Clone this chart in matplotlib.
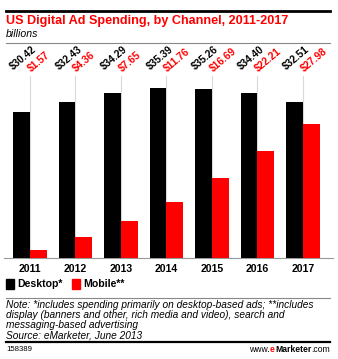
import matplotlib
matplotlib.use("Agg")
import matplotlib.pyplot as plt
from matplotlib.lines import Line2D
from matplotlib.patches import Rectangle

years = ["2011", "2012", "2013", "2014", "2015", "2016", "2017"]
desktop = [30.42, 32.43, 34.29, 35.39, 35.26, 34.40, 32.51]
mobile = [1.57, 4.36, 7.65, 11.76, 16.69, 22.21, 27.98]
series_names = ["Desktop*", "Mobile**"]

W, H = 338, 359
fig = plt.figure(figsize=(W / 100, H / 100), dpi=100)
fig.patch.set_facecolor("white")

def fx(px):
    return px / W

def fy(py):
    return 1 - py / H

RED = "#FF0000"
FONT = "Liberation Sans"

# axes
ax_left, ax_right = 4, 333
ax_top, ax_bottom = 76, 258
ax = fig.add_axes([fx(ax_left), fy(ax_bottom), fx(ax_right - ax_left), (ax_bottom - ax_top) / H])
x = list(range(len(years)))
bw = 0.37
ax.bar([i - bw / 2 for i in x], desktop, width=bw, color="black", zorder=3)
ax.bar([i + bw / 2 for i in x], mobile, width=bw, color=RED, zorder=3)
for i in x:
    ax.axvline(i, color="#d9d9d9", lw=0.8, zorder=1)
ax.set_xlim(-0.571, 6.66)
ax.set_ylim(0, 37.9)
for s in ["top", "right", "left"]:
    ax.spines[s].set_visible(False)
ax.spines["bottom"].set_color("#999999")
ax.spines["bottom"].set_linewidth(0.8)
ax.set_yticks([])
ax.set_xticks(x)
ax.set_xticklabels(years, fontfamily=FONT, fontweight="bold", fontsize=7.6)
ax.tick_params(axis="x", length=0, pad=4)

# value labels
for i in x:
    ax.annotate(f"${desktop[i]:.2f}", xy=(i - bw + 0.01, 1), xycoords=("data", "axes fraction"),
                xytext=(0, 4.4), textcoords="offset points", rotation=40,
                rotation_mode="anchor", ha="left", va="baseline",
                fontfamily=FONT, fontweight="bold", fontsize=7.3, color="black")
    ax.annotate(f"${mobile[i]:.2f}", xy=(i + 0.02, 1), xycoords=("data", "axes fraction"),
                xytext=(0, 3.0), textcoords="offset points", rotation=40,
                rotation_mode="anchor", ha="left", va="baseline",
                fontfamily=FONT, fontweight="bold", fontsize=7.3, color=RED)

# header
fig.add_artist(Line2D([fx(6), fx(330)], [fy(11), fy(11)], color="black", lw=2))
fig.text(fx(6), fy(21), "US Digital Ad Spending, by Channel, 2011-2017", color=RED,
         fontfamily=FONT, fontweight="bold", fontsize=9.1, va="center", ha="left")
fig.text(fx(6), fy(34), "billions", fontfamily=FONT, fontstyle="italic", fontsize=7.6,
         va="center", ha="left")
fig.add_artist(Line2D([fx(6), fx(330)], [fy(43), fy(43)], color="#888888", lw=0.8))

# legend
for (px, col, name) in [(6, "black", series_names[0]), (72, RED, series_names[1])]:
    fig.add_artist(Rectangle((fx(px), fy(289)), fx(8), 10 / H, color=col))
    fig.text(fx(px + 11), fy(284), name, fontfamily=FONT, fontweight="bold", fontsize=7.6,
             va="center", ha="left")

# notes
fig.add_artist(Line2D([fx(6), fx(330)], [fy(298), fy(298)], color="#888888", lw=0.8))
notes = ["Note: *includes spending primarily on desktop-based ads; **includes",
         "display (banners and other, rich media and video), search and",
         "messaging-based advertising",
         "Source: eMarketer, June 2013"]
for k, line in enumerate(notes):
    fig.text(fx(6), fy(304.5 + k * 10.3), line, fontfamily=FONT, fontstyle="italic",
             fontsize=7.3, va="center", ha="left")
fig.add_artist(Line2D([fx(6), fx(330)], [fy(342), fy(342)], color="black", lw=1.6))
fig.text(fx(6), fy(349.5), "158389", fontfamily=FONT, fontsize=5.6, va="center", ha="left")

# colored url
renderer = fig.canvas.get_renderer()
parts = [("www.", "normal", "black"), ("e", "bold", RED), ("Marketer", "bold", "black"), (".com", "normal", "black")]
total = 0
for s, w, c in parts:
    tt = fig.text(0, 0, s, fontfamily=FONT, fontsize=6.2, fontweight=w)
    total += tt.get_window_extent(renderer).width
    tt.remove()
xpos = 330 - total
for s, w, c in parts:
    tt = fig.text(fx(xpos), fy(349.5), s, fontfamily=FONT, fontsize=6.2, fontweight=w,
                  color=c, va="center", ha="left")
    xpos += tt.get_window_extent(renderer).width

fig.savefig("out.png", dpi=100, facecolor="white")
